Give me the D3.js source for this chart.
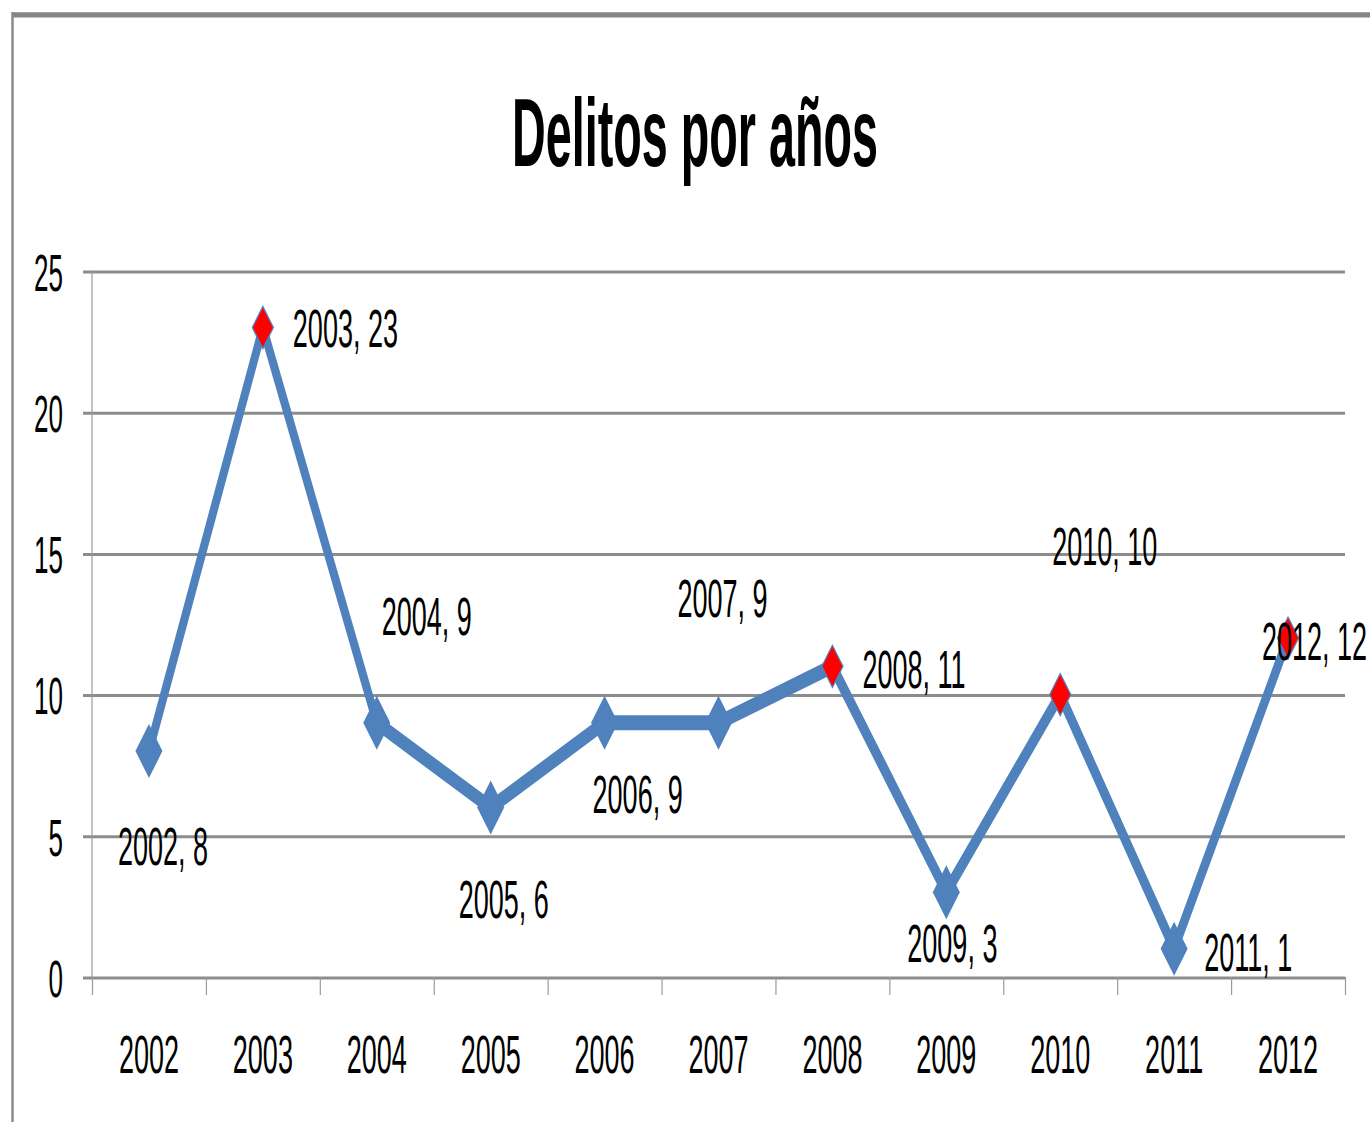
<!DOCTYPE html>
<html>
<head>
<meta charset="utf-8">
<script src="https://cdn.jsdelivr.net/npm/d3@7"></script>
<style>
  html, body { margin: 0; padding: 0; background: #fff; }
  svg { display: block; }
  text { font-family: "Liberation Sans", Arial, sans-serif; fill: #000; }
</style>
</head>
<body>
<script>
// data
const years = ['2002', '2003', '2004', '2005', '2006', '2007', '2008', '2009', '2010', '2011', '2012']
const delitos = [8, 23, 9, 6, 9, 9, 11, 3, 10, 1, 12]
const highlighted = ['2003', '2008', '2010', '2012']
const yTicks = [0, 5, 10, 15, 20, 25]
const title = 'Delitos por años'

// hand-placed data labels, [dx, dy] from the point
const labelOffsets = [
  [-31, 57], [30, 10], [5, -44], [-32, 55], [-12, 45], [-41, -53],
  [30, 11], [-39, 35], [-8, -65], [30, 11], [-26, 11]
]

const width = 1370
const height = 1122
// the picture is a chart stretched twice in height, so draw flat and scale
const stretch = 2

const svg = d3.select('body')
  .append('svg')
  .attr('width', width)
  .attr('height', height)

const root = svg.append('g').attr('transform', `scale(1, ${stretch})`)

const plotLeft = 92
const plotRight = 1345
const plotTop = 135.5
const plotBottom = 488.5

const x = d3.scaleBand().domain(years).range([plotLeft, plotRight])
const xEdge = d3.scaleLinear().domain([0, years.length]).range([plotLeft, plotRight])
const y = d3.scaleLinear().domain([0, 25]).range([plotBottom, plotTop])

// frame
root.append('line')
  .attr('x1', 12).attr('x2', width)
  .attr('y1', 7.4).attr('y2', 7.4)
  .attr('stroke', '#858585').attr('stroke-width', 2.6)
root.append('line')
  .attr('x1', 12.5).attr('x2', 12.5)
  .attr('y1', 6).attr('y2', height / stretch)
  .attr('stroke', '#8a8a8a').attr('stroke-width', 2.5)

// title
root.append('text')
  .attr('x', 695)
  .attr('y', 83)
  .attr('text-anchor', 'middle')
  .attr('font-size', 48)
  .attr('font-weight', 'bold')
  .attr('textLength', 366)
  .attr('lengthAdjust', 'spacingAndGlyphs')
  .text(title)

// gridlines
const grid = root.append('g')
  .attr('transform', `translate(${plotRight},0)`)
  .call(d3.axisLeft(y).tickValues(yTicks).tickSize(plotRight - 83).tickFormat(''))
grid.select('.domain').remove()
grid.selectAll('.tick line').attr('stroke', '#8c8c8c').attr('stroke-width', 1.5)

// y labels
const yAxis = root.append('g')
  .attr('transform', 'translate(63,0)')
  .call(d3.axisLeft(y).tickValues(yTicks).tickSize(0).tickPadding(0))
yAxis.select('.domain').remove()
yAxis.selectAll('text')
  .attr('font-size', 26)
  .attr('dy', '0.36em')
  .style('font-family', '"Liberation Sans", Arial, sans-serif')

// vertical axis line
root.append('line')
  .attr('x1', plotLeft).attr('x2', plotLeft)
  .attr('y1', y(25)).attr('y2', y(0))
  .attr('stroke', '#9a9a9a').attr('stroke-width', 1.2)

// x tick marks on the category edges
const xTicks = root.append('g')
  .attr('transform', `translate(0,${plotBottom})`)
  .call(d3.axisBottom(xEdge).tickValues(d3.range(years.length + 1)).tickSize(9).tickFormat(''))
xTicks.select('.domain').remove()
xTicks.selectAll('.tick line').attr('stroke', '#9a9a9a').attr('stroke-width', 1.2)

// x labels
const xAxis = root.append('g')
  .attr('transform', `translate(0,${plotBottom})`)
  .call(d3.axisBottom(x).tickSize(0).tickPadding(29))
xAxis.select('.domain').remove()
xAxis.selectAll('text')
  .attr('font-size', 27)
  .style('font-family', '"Liberation Sans", Arial, sans-serif')

// series
const points = years.map((year, i) => ({ year, value: delitos[i], i }))
const cx = d => x(d.year) + x.bandwidth() / 2
const cy = d => y(d.value)

const line = d3.line().x(cx).y(cy)

root.append('path')
  .datum(points)
  .attr('d', line)
  .attr('fill', 'none')
  .attr('stroke', '#4f81bd')
  .attr('stroke-width', 7.5)
  .attr('stroke-linejoin', 'round')

function diamond(r) {
  return `M0,${-r}L${r},0L0,${r}L${-r},0Z`
}

root.selectAll('.marker')
  .data(points)
  .join('path')
  .attr('class', 'marker')
  .attr('transform', d => `translate(${cx(d)},${cy(d)})`)
  .attr('d', d => highlighted.includes(d.year) ? diamond(10.5) : diamond(13.5))
  .attr('fill', d => highlighted.includes(d.year) ? '#ff0000' : '#4f81bd')
  .attr('stroke', '#4f81bd')
  .attr('stroke-width', d => highlighted.includes(d.year) ? 1 : 0)

// data labels
root.selectAll('.label')
  .data(points)
  .join('text')
  .attr('class', 'label')
  .attr('x', d => cx(d) + labelOffsets[d.i][0])
  .attr('y', d => cy(d) + labelOffsets[d.i][1])
  .attr('font-size', 27)
  .text(d => `${d.year}, ${d.value}`)
</script>
</body>
</html>
